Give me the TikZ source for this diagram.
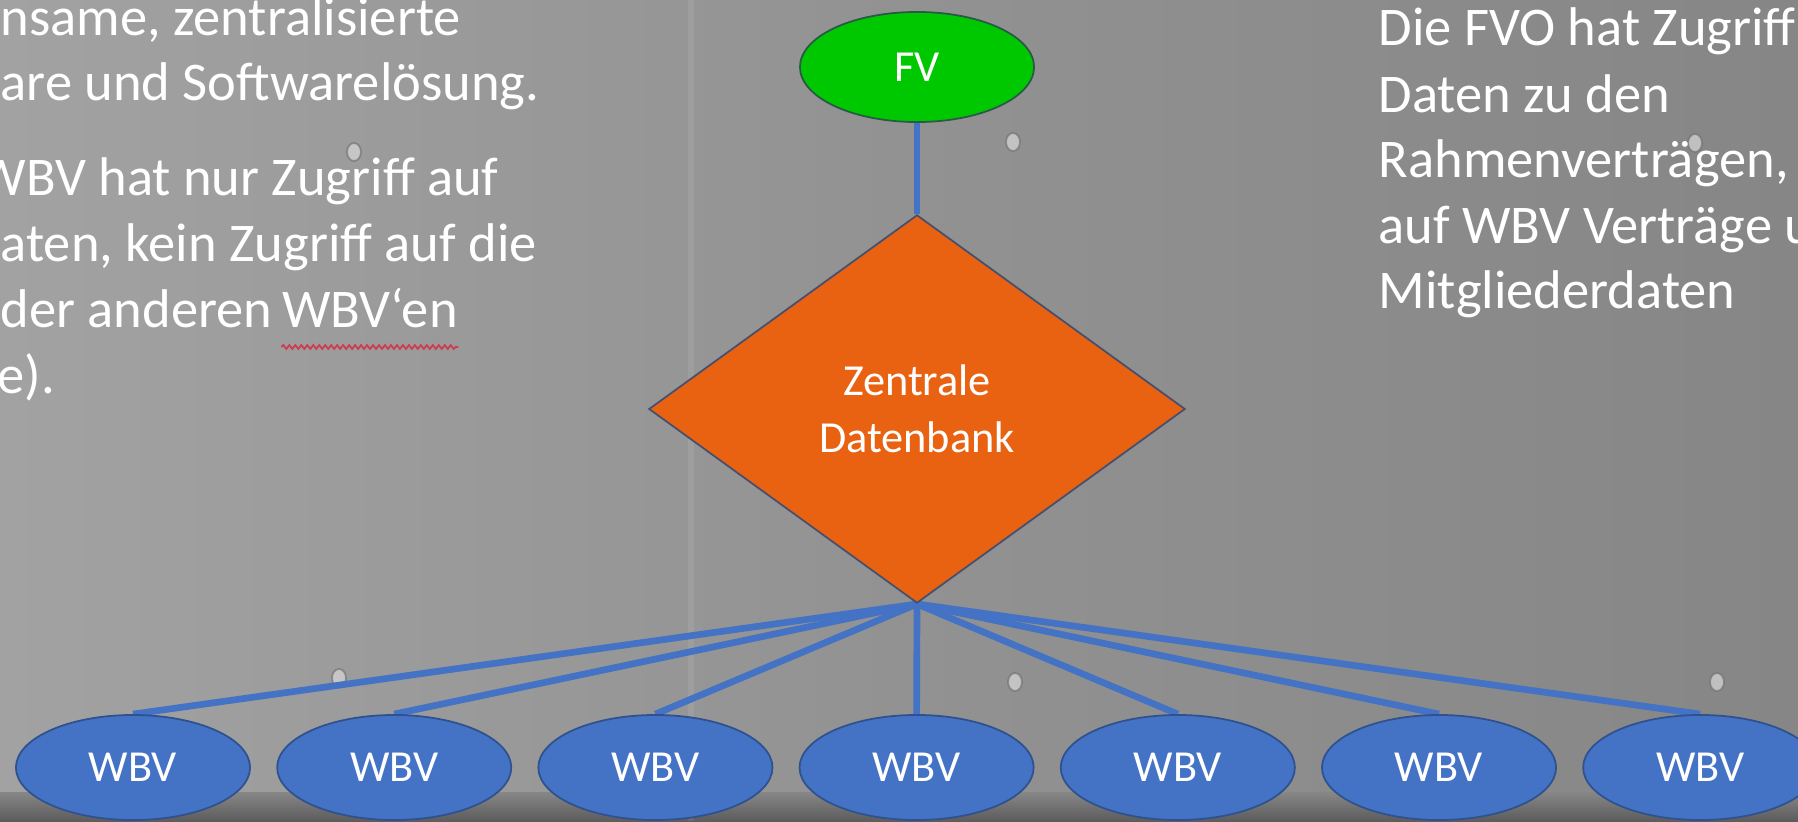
\documentclass[tikz,border=0pt]{standalone}
\usepackage{fontspec}
\setmainfont{Carlito}
\usetikzlibrary{shapes.geometric,decorations.pathmorphing,backgrounds}
\definecolor{wbvblue}{RGB}{68,114,196}
\definecolor{wbvedge}{RGB}{47,82,143}
\definecolor{fvgreen}{RGB}{0,200,0}
\definecolor{fvedge}{RGB}{40,90,70}
\definecolor{dborange}{RGB}{233,98,17}
\definecolor{dbedge}{RGB}{70,80,110}
\definecolor{bgleft}{RGB}{162,162,162}
\definecolor{bgmid}{RGB}{146,146,146}
\definecolor{bgright}{RGB}{134,134,134}
\definecolor{floor}{RGB}{92,92,92}
\definecolor{spell}{RGB}{205,60,80}
\tikzset{
  shapetext/.style={text=white,font=\fontsize{12.6pt}{16.2pt}\selectfont},
  fvnode/.style={ellipse,draw=fvedge,line width=0.5pt,fill=fvgreen,minimum width=2.34cm,minimum height=1.10cm,inner sep=0pt,shapetext},
  dbnode/.style={diamond,draw=dbedge,line width=0.5pt,fill=dborange,minimum width=5.36cm,minimum height=3.88cm,inner sep=0pt,align=center,shapetext},
  wbvnode/.style={ellipse,draw=wbvedge,line width=0.5pt,fill=wbvblue,minimum width=2.34cm,minimum height=1.05cm,inner sep=0pt,shapetext},
  sidetext/.style={text=white,anchor=base west,inner sep=0pt,font=\fontsize{15.5pt}{18.8pt}\selectfont},
  link/.style={draw=wbvblue,line width=1.9pt},
  hole/.style={fill=white!70!gray,draw=black!55,line width=0.5pt,opacity=0.7}
}
\begin{document}
\begin{tikzpicture}[x=0.01cm,y=-0.01cm]
\useasboundingbox (0,0) rectangle (1798,821);
\clip (0,0) rectangle (1798,821);

% side texts
\node[sidetext] (l1) at (0,35) {nsame, zentralisierte};
\node[sidetext] (l2) at (0,100) {are und Softwarelösung.};
\node[sidetext] (l3) at (-23,195) {WBV hat nur Zugriff auf};
\node[sidetext] (l4) at (0,261) {aten, kein Zugriff auf die};
\node[sidetext] (l5) at (0,327) {der anderen};
\node[sidetext] (l5b) at ([xshift=0.24em]l5.base east) {WBV‘en};
\node[sidetext] (l6) at (-3,393) {e).};
\draw[spell,line width=0.5pt,decorate,decoration={snake,amplitude=0.55pt,segment length=1.7pt}]
  ([yshift=-0.2cm]l5b.base west) -- ([yshift=-0.2cm]l5b.base east);

\node[sidetext] (r1) at (1378,45) {Die FVO hat Zugriff};
\node[sidetext] (r2) at (1378,112) {Daten zu den};
\node[sidetext] (r3) at (1378,177) {Rahmenverträgen,};
\node[sidetext] (r4) at (1378,243) {auf WBV Verträge u};
\node[sidetext] (r5) at (1378,308) {Mitgliederdaten};

% nodes
\node[fvnode] (fv) at (917,67) {FV};
\node[dbnode] (db) at (917,409) {Zentrale\\Datenbank};
\foreach \i in {1,...,7} {
  \node[wbvnode] (w\i) at ({133+261.2*(\i-1)},767.5) {WBV};
}
% background and connectors
\begin{scope}[on background layer]
\shade[left color=bgleft,right color=bgright,middle color=bgmid] (0,0) rectangle (1798,821);
\shade[top color=bgmid!80!floor,bottom color=floor] (0,792) rectangle (1798,821);
\fill[white,opacity=0.08] (688,0) rectangle (694,821);
\foreach \hx/\hy in {354/152,1013/142,1015/682,1717/682,339/678,1695/143} {
  \path[hole] (\hx,\hy) ellipse [x radius=0.07cm,y radius=0.09cm];
}
\draw[link] (fv.south) -- (db.north);
\foreach \i in {1,...,7} {
  \draw[link] (db.south) -- (w\i.north);
}
\end{scope}
\end{tikzpicture}
\end{document}
